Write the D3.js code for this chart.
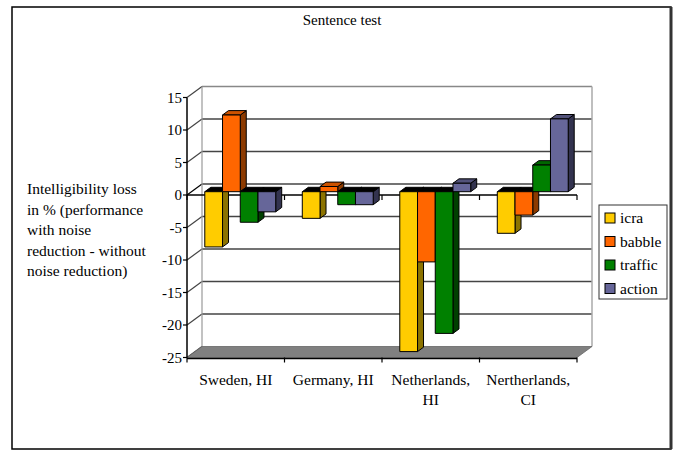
<!DOCTYPE html>
<html>
<head>
<meta charset="utf-8">
<script src="https://cdn.jsdelivr.net/npm/d3@7"></script>
<style>
  html, body { margin: 0; padding: 0; background: #fff; }
  svg { display: block; }
  svg text { font-family: "Liberation Serif", "Times New Roman", serif; }
</style>
</head>
<body>
<svg id="chart" width="676" height="450"></svg>
<script>
// Sentence test: intelligibility loss per site and noise type
const categories = [["Sweden, HI"], ["Germany, HI"], ["Netherlands,", "HI"], ["Nertherlands,", "CI"]];
const seriesNames = ["icra", "babble", "traffic", "action"];
const icra    = [-8.5, -4.1, -24.6, -6.4];
const babble  = [11.8, 0.8, -10.8, -3.6];
const traffic = [-4.7, -2.0, -21.8, 4.1];
const action  = [-3.1, -2.0, 1.3, 11.2];
const yTicks  = [15, 10, 5, 0, -5, -10, -15, -20, -25];

const seriesValues = [icra, babble, traffic, action];
const palette = {
  icra:    { front: "#FFCC00", side: "#8C7300", top: "#CCA300" },
  babble:  { front: "#FF6600", side: "#8C3A00", top: "#CC5200" },
  traffic: { front: "#008000", side: "#004000", top: "#006600" },
  action:  { front: "#666699", side: "#33334F", top: "#52527A" }
};
const SERIF = "Liberation Serif";

const svg = d3.select("#chart");
const label = (sel) => sel.append("text").attr("font-family", SERIF).attr("fill", "#000");

// Outer frame
svg.append("rect").attr("x", 12).attr("y", 7).attr("width", 659).attr("height", 442)
  .attr("fill", "#fff").attr("stroke", "#000").attr("stroke-width", 1.5);
svg.append("line").attr("x1", 671).attr("x2", 671).attr("y1", 7).attr("y2", 449)
  .attr("stroke", "#333").attr("stroke-width", 3);

label(svg).attr("x", 342).attr("y", 25).attr("text-anchor", "middle")
  .attr("font-size", 15).text("Sentence test");

// Plot geometry: front plane and depth offset of the 3D box
const x0 = 187, x1 = 577;
const DX = 15, DY = -11;
const f1 = 0.3, f2 = 0.7;   // bar depth span within the box

const y = d3.scaleLinear().domain([-25, 15]).range([357.5, 97.5]);
const xCat = d3.scaleBand().domain(d3.range(categories.length)).range([x0, x1]).paddingInner(0).paddingOuter(0);
const xSer = d3.scaleBand().domain(seriesNames).range([0, xCat.bandwidth()]).paddingInner(0).paddingOuter(0.75);

// Back wall and side wall gridlines
const walls = svg.append("g");
yTicks.filter(t => t > -25).forEach(t => {
  walls.append("line").attr("x1", x0 + DX).attr("x2", x1 + DX)
    .attr("y1", y(t) + DY).attr("y2", y(t) + DY)
    .attr("stroke", t === 15 ? "#888" : "#444").attr("stroke-width", 1.5);
});
yTicks.forEach(t => {
  walls.append("line").attr("x1", x0).attr("x2", x0 + DX)
    .attr("y1", y(t)).attr("y2", y(t) + DY)
    .attr("stroke", t === 0 ? "#000" : "#444").attr("stroke-width", 1.2);
});
walls.append("line").attr("x1", x0 + DX).attr("x2", x0 + DX)
  .attr("y1", y(15) + DY).attr("y2", y(-25) + DY).attr("stroke", "#999").attr("stroke-width", 1.2);
walls.append("line").attr("x1", x1 + DX).attr("x2", x1 + DX)
  .attr("y1", y(15) + DY).attr("y2", y(-25) + DY).attr("stroke", "#aaa").attr("stroke-width", 1.5);

// Floor
svg.append("polygon")
  .attr("points", [[x0, y(-25)], [x1, y(-25)], [x1 + DX, y(-25) + DY], [x0 + DX, y(-25) + DY]].map(p => p.join(",")).join(" "))
  .attr("fill", "#808080").attr("stroke", "#666").attr("stroke-width", 0.8);

// Zero axis line with category tick marks
svg.append("line").attr("x1", x0).attr("x2", x1).attr("y1", y(0)).attr("y2", y(0))
  .attr("stroke", "#000").attr("stroke-width", 1.5);
d3.range(categories.length + 1).forEach(i => {
  const xx = x0 + i * xCat.bandwidth();
  svg.append("line").attr("x1", xx).attr("x2", xx).attr("y1", y(0)).attr("y2", y(0) + 5)
    .attr("stroke", "#000").attr("stroke-width", 1.2);
});

// Bars
const ddx = (f2 - f1) * DX, ddy = (f2 - f1) * DY;
const bars = svg.append("g").attr("stroke", "#000").attr("stroke-width", 1).attr("stroke-linejoin", "round");
categories.forEach((c, ci) => {
  seriesNames.forEach((s, si) => {
    const v = seriesValues[si][ci];
    const bx = xCat(ci) + xSer(s) + f1 * DX;
    const bw = xSer.bandwidth();
    const ya = y(0) + f1 * DY, yb = y(v) + f1 * DY;
    const top = Math.min(ya, yb), bot = Math.max(ya, yb);
    const col = palette[s];
    const pts = a => a.map(p => p.join(",")).join(" ");
    bars.append("polygon")
      .attr("points", pts([[bx + bw, top], [bx + bw + ddx, top + ddy], [bx + bw + ddx, bot + ddy], [bx + bw, bot]]))
      .attr("fill", col.side);
    bars.append("polygon")
      .attr("points", pts([[bx, top], [bx + ddx, top + ddy], [bx + bw + ddx, top + ddy], [bx + bw, top]]))
      .attr("fill", v >= 0 ? col.top : "#000");
    bars.append("rect").attr("x", bx).attr("y", top).attr("width", bw).attr("height", bot - top)
      .attr("fill", col.front);
  });
});

// Value axis
const yAxis = svg.append("g");
yAxis.append("line").attr("x1", x0).attr("x2", x0).attr("y1", y(15)).attr("y2", y(-25))
  .attr("stroke", "#000").attr("stroke-width", 1.5);
yTicks.forEach(t => {
  yAxis.append("line").attr("x1", x0 - 4).attr("x2", x0).attr("y1", y(t)).attr("y2", y(t))
    .attr("stroke", "#000").attr("stroke-width", 1.2);
  label(yAxis).attr("x", x0 - 5).attr("y", y(t) + 5)
    .attr("text-anchor", "end").attr("font-size", 15).text(String(t));
});

// Category axis along the floor
svg.append("line").attr("x1", x0).attr("x2", x1).attr("y1", y(-25) + 1).attr("y2", y(-25) + 1)
  .attr("stroke", "#000").attr("stroke-width", 1.5);
d3.range(categories.length + 1).forEach(i => {
  const xx = x0 + i * xCat.bandwidth();
  svg.append("line").attr("x1", xx).attr("x2", xx).attr("y1", y(-25)).attr("y2", y(-25) + 5)
    .attr("stroke", "#000").attr("stroke-width", 1.2);
});
categories.forEach((lines, ci) => {
  const t = label(svg).attr("text-anchor", "middle").attr("font-size", 15.5);
  lines.forEach((ln, li) => {
    t.append("tspan").attr("x", xCat(ci) + xCat.bandwidth() / 2).attr("y", 385 + li * 20).text(ln);
  });
});

// Axis title
const yTitle = ["Intelligibility loss", "in % (performance", "with noise", "reduction - without", "noise reduction)"];
const tt = label(svg).attr("font-size", 15.5);
yTitle.forEach((ln, i) => tt.append("tspan").attr("x", 27).attr("y", 194 + i * 20.5).text(ln));

// Legend
const lg = svg.append("g");
lg.append("rect").attr("x", 599).attr("y", 205).attr("width", 68).attr("height", 94)
  .attr("fill", "#fff").attr("stroke", "#333").attr("stroke-width", 1);
seriesNames.forEach((s, i) => {
  const cy = 218 + i * 23.5;
  lg.append("rect").attr("x", 605).attr("y", cy - 5).attr("width", 10).attr("height", 10)
    .attr("fill", palette[s].front).attr("stroke", "#000").attr("stroke-width", 1);
  label(lg).attr("x", 620).attr("y", cy + 5).attr("font-size", 15.5).text(s);
});
</script>
</body>
</html>
